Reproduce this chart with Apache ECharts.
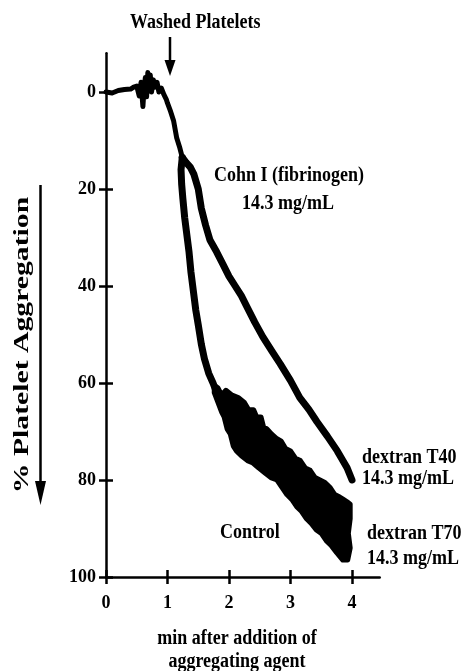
<!DOCTYPE html>
<html>
<head>
<meta charset="utf-8">
<script src="https://cdn.jsdelivr.net/npm/echarts@6/dist/echarts.min.js"></script>
<style>
html,body{margin:0;padding:0;background:#fff;}
#c{width:468px;height:671px;}
</style>
</head>
<body>
<div id="c"></div>
<script>
// ---- data (x = min after addition, y = % platelet aggregation) ----
var xTicks = [0, 1, 2, 3, 4];
var yTicks = [0, 20, 40, 60, 80, 100];

var baselineTrace = [
  [0,0],[0.1,0.2],[0.2,-0.3],[0.3,-0.5],[0.4,-0.6],[0.45,-1],[0.5,-1.2],[0.54,0.8],
  [0.57,-2],[0.6,3],[0.62,-1],[0.64,-3],[0.66,1],[0.68,-4],[0.7,-1],[0.72,-3.5],
  [0.74,0],[0.77,-2.5],[0.8,-1],[0.83,-2],[0.86,0],[0.9,-0.8],[0.94,0.5],[0.98,1.5],
  [1.0,2.3],[1.05,4],[1.1,6],[1.15,9.5],[1.2,11.5],[1.24,13.5]
];

var cohnT40Trace = [
  [1.24,13.5],[1.3,14.5],[1.37,15.5],[1.43,17],[1.5,20],[1.55,24],[1.62,27.5],
  [1.69,30.5],[1.8,33],[1.9,35.5],[2.0,38],[2.1,40],[2.2,42],[2.3,44.5],[2.42,47.5],
  [2.55,50.5],[2.7,53.5],[2.83,56],[3.0,59.5],[3.15,63],[3.3,65.5],[3.43,68],
  [3.6,71],[3.76,74],[3.85,76],[3.92,77.5],[4.0,80]
];

var controlT70Trace = [
  [1.24,13.5],[1.22,16],[1.23,19],[1.25,22],[1.28,26],[1.31,29],[1.35,33],[1.38,37],
  [1.42,41],[1.46,45],[1.5,48],[1.55,52],[1.6,55],[1.67,58],[1.74,60],[1.8,62]
];

// scattered band of the Control / dextran T70 traces: upper edge then lower edge
var bandUpperEdge = [
  [1.76,60.5],[1.82,61],[1.88,62.5],[1.95,61.5],[2.05,62.5],[2.15,63],[2.25,64],
  [2.32,65.5],[2.4,65.5],[2.45,67],[2.52,67],[2.56,69],[2.62,69.5],[2.69,70.5],
  [2.78,71.5],[2.85,72],[2.92,73.5],[3.0,74],[3.08,75.5],[3.16,76],[3.24,77.5],
  [3.32,78],[3.4,79.5],[3.48,80],[3.56,80.5],[3.64,81.5],[3.72,83],[3.8,83.5],
  [3.86,84],[3.92,84.5],[3.97,85],[3.97,88],[3.94,91],[3.97,94],[3.93,96.5]
];
var bandLowerEdge = [
  [3.85,96.5],[3.75,95],[3.66,93.5],[3.58,92.5],[3.5,91],[3.42,90.3],[3.34,89],
  [3.26,88],[3.18,86.5],[3.1,85.5],[3.02,84],[2.94,83],[2.86,81.5],[2.78,80],
  [2.68,79.5],[2.58,78.5],[2.48,77.5],[2.39,76.5],[2.3,76],[2.2,75],[2.12,74],
  [2.07,73],[2.02,70.5],[1.97,69.5],[1.92,67],[1.88,66],[1.82,64],[1.76,62]
];

// ---- chart ----
var chart = echarts.init(document.getElementById('c'), null, {renderer: 'canvas'});
var FONT = '"Liberation Serif", "Times New Roman", serif';
var bandPoints = bandUpperEdge.concat(bandLowerEdge);

function txt(x, y, s, align, size) {
  return {
    type: 'text', x: x, y: y, scaleY: 1.2, z: 100,
    style: {
      text: s, fill: '#000', align: align || 'left', verticalAlign: 'middle',
      font: 'bold ' + (size || 18) + 'px ' + FONT
    }
  };
}

var option = {
  backgroundColor: '#fff',
  animation: false,
  grid: {left: 106, right: 88.3, top: 53.2, bottom: 94, containLabel: false},
  xAxis: [{
    type: 'value', min: 0, max: 4.45, position: 'bottom',
    axisLine: {show: true, onZero: false, lineStyle: {color: '#000', width: 2.5}},
    axisTick: {show: true, length: 7, inside: false, customValues: xTicks, lineStyle: {color: '#000', width: 2.5}},
    axisLabel: {show: true, customValues: xTicks, margin: 17, color: '#000',
      fontFamily: FONT, fontWeight: 'bold', fontSize: 18},
    splitLine: {show: false}
  }, {
    type: 'value', min: 0, max: 4.45, position: 'bottom',
    axisLine: {show: false, onZero: false},
    axisTick: {show: true, length: 7, inside: true, customValues: xTicks, lineStyle: {color: '#000', width: 2.5}},
    axisLabel: {show: false},
    splitLine: {show: false}
  }],
  yAxis: [{
    type: 'value', min: -8, max: 100, inverse: true, position: 'left',
    axisLine: {show: true, onZero: false, lineStyle: {color: '#000', width: 2.5}},
    axisTick: {show: true, length: 7, inside: false, customValues: yTicks, lineStyle: {color: '#000', width: 2.5}},
    axisLabel: {show: true, customValues: yTicks, margin: 10, color: '#000',
      fontFamily: FONT, fontWeight: 'bold', fontSize: 18},
    splitLine: {show: false}
  }, {
    type: 'value', min: -8, max: 100, inverse: true, position: 'left',
    axisLine: {show: false, onZero: false},
    axisTick: {show: true, length: 7, inside: true, customValues: yTicks, lineStyle: {color: '#000', width: 2.5}},
    axisLabel: {show: false},
    splitLine: {show: false}
  }],
  series: [
    {
      name: 'baseline', type: 'line', xAxisIndex: 0, yAxisIndex: 0,
      data: baselineTrace, showSymbol: false, symbol: 'none',
      lineStyle: {color: '#000', width: 5, join: 'round', cap: 'round'}
    },
    {
      name: 'Cohn I (fibrinogen) / dextran T40', type: 'line', xAxisIndex: 0, yAxisIndex: 0,
      data: cohnT40Trace, showSymbol: false, symbol: 'none',
      lineStyle: {color: '#000', width: 7, join: 'round', cap: 'round'}
    },
    {
      name: 'Control / dextran T70', type: 'line', xAxisIndex: 0, yAxisIndex: 0,
      data: controlT70Trace, showSymbol: false, symbol: 'none',
      lineStyle: {color: '#000', width: 7, join: 'round', cap: 'round'}
    },
    {
      name: 'Control / dextran T70 band', type: 'custom', xAxisIndex: 0, yAxisIndex: 0,
      data: bandPoints,
      renderItem: function (params, api) {
        if (params.dataIndex !== 0) return null;
        var pts = bandPoints.map(function (p) { return api.coord(p); });
        return {
          type: 'polygon',
          shape: {points: pts},
          style: {fill: '#000', stroke: '#000', lineWidth: 5, lineJoin: 'round'}
        };
      }
    }
  ],
  graphic: [
    txt(130, 22, 'Washed Platelets', 'left', 18),
    {type: 'line', shape: {x1: 170, y1: 37, x2: 170, y2: 62}, style: {stroke: '#000', lineWidth: 2.5}},
    {type: 'polygon', shape: {points: [[164.5, 60], [175.5, 60], [170, 76]]}, style: {fill: '#000'}},
    txt(289, 175, 'Cohn I (fibrinogen)', 'center', 18),
    txt(288, 203, '14.3 mg/mL', 'center', 18),
    txt(362, 457, 'dextran T40', 'left', 18),
    txt(362, 478, '14.3 mg/mL', 'left', 18),
    txt(220, 532, 'Control', 'left', 18),
    txt(367, 533, 'dextran T70', 'left', 18),
    txt(367, 558, '14.3 mg/mL', 'left', 18),
    txt(237, 638, 'min after addition of', 'center', 18),
    txt(237, 661, 'aggregating agent', 'center', 18),
    {
      type: 'text', x: 22, y: 345, rotation: Math.PI / 2, scaleX: 1.35, z: 100,
      style: {text: '% Platelet Aggregation', fill: '#000', align: 'center', verticalAlign: 'middle',
        font: 'bold 22px ' + FONT}
    },
    {type: 'line', shape: {x1: 40.5, y1: 185, x2: 40.5, y2: 485}, style: {stroke: '#000', lineWidth: 2.5}},
    {type: 'polygon', shape: {points: [[35, 481], [46, 481], [40.5, 505]]}, style: {fill: '#000'}}
  ]
};
chart.setOption(option);
</script>
</body>
</html>
